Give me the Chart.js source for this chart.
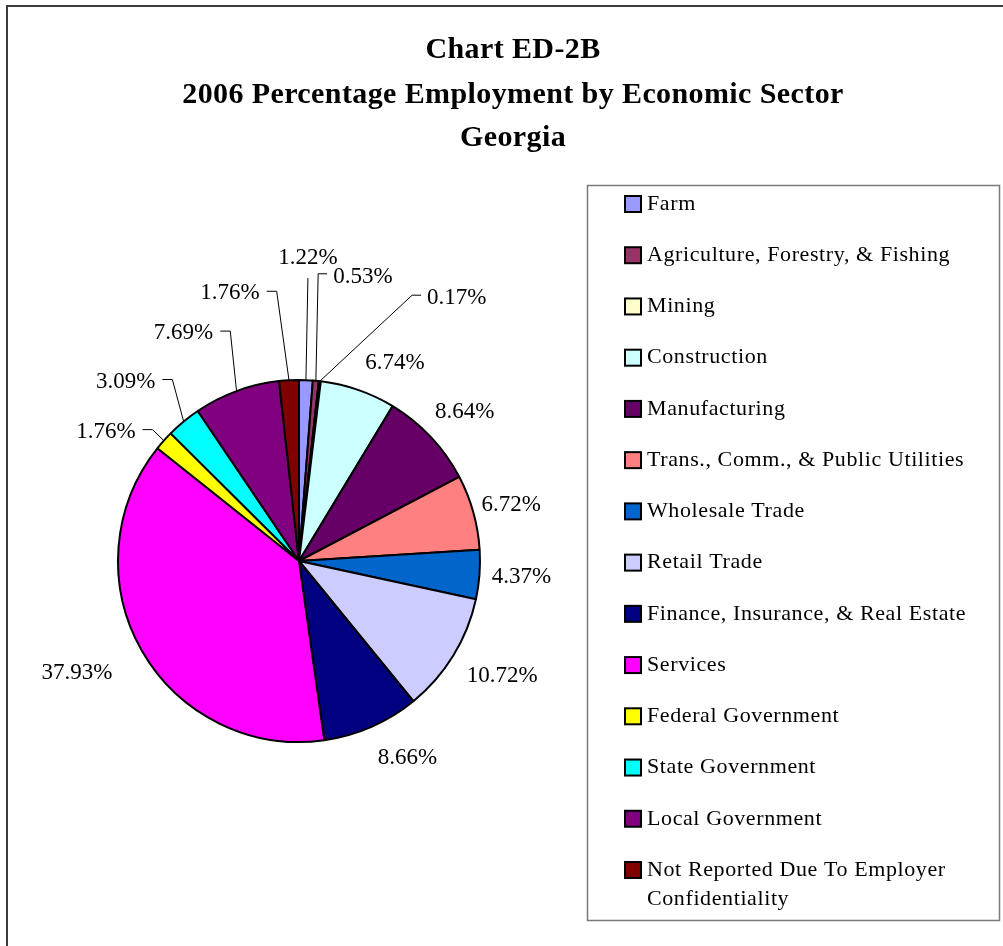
<!DOCTYPE html>
<html>
<head>
<meta charset="utf-8">
<script src="https://cdn.jsdelivr.net/npm/chart.js@4/dist/chart.umd.min.js"></script>
<style>
  html, body { margin: 0; padding: 0; background: #ffffff; }
  canvas { display: block; }
</style>
</head>
<body>
<canvas id="chart" width="1003" height="946"></canvas>
<script>
// Chart text and data
const titleLines = ['Chart ED-2B', '2006 Percentage Employment by Economic Sector', 'Georgia'];
const sectors = [
  'Farm',
  'Agriculture, Forestry, & Fishing',
  'Mining',
  'Construction',
  'Manufacturing',
  'Trans., Comm., & Public Utilities',
  'Wholesale Trade',
  'Retail Trade',
  'Finance, Insurance, & Real Estate',
  'Services',
  'Federal Government',
  'State Government',
  'Local Government',
  'Not Reported Due To Employer Confidentiality'
];
const shares = [1.22, 0.53, 0.17, 6.74, 8.64, 6.72, 4.37, 10.72, 8.66, 37.93, 1.76, 3.09, 7.69, 1.76];
const sliceColors = [
  '#9999FF', '#993366', '#FFFFCC', '#CCFFFF', '#660066', '#FF8080', '#0066CC',
  '#CCCCFF', '#000080', '#FF00FF', '#FFFF00', '#00FFFF', '#800080', '#800000'
];

// Label placement: shift of each label centre from its slice's outer mid-point (px)
const labelShift = [
  [2, -122], [47, -104], [137, -83], [37, -27], [34, -25], [38, -7], [42, 2],
  [49, 20], [36, 31], [-65, 22], [-58, -9], [-58, -40], [-53, -58], [-59, -87]
];
// Which side the leader line leaves the label from (null = no leader)
const leaderStyle = ['down', 'right', 'right', null, null, null, null, null, null, null, 'left', 'left', 'left', 'left'];

const SERIF = '"Liberation Serif", "Times New Roman", serif';

function setSpacing(ctx, px) {
  if ('letterSpacing' in ctx) ctx.letterSpacing = px + 'px';
}

function wrapWords(ctx, text, maxWidth) {
  const words = text.split(' ');
  const lines = [];
  let line = '';
  for (const w of words) {
    const test = line ? line + ' ' + w : w;
    if (line && ctx.measureText(test).width > maxWidth) {
      lines.push(line);
      line = w;
    } else {
      line = test;
    }
  }
  if (line) lines.push(line);
  return lines;
}

const decor = {
  id: 'decor',
  afterDraw(chart) {
    const ctx = chart.ctx;
    ctx.save();

    // Outer frame (only left and top edges fall inside the canvas)
    ctx.strokeStyle = '#3c3c3c';
    ctx.lineWidth = 2;
    ctx.strokeRect(7, 6, 1200, 1200);

    // Title
    ctx.fillStyle = '#000';
    ctx.textAlign = 'center';
    ctx.textBaseline = 'middle';
    ctx.font = 'bold 30px ' + SERIF;
    setSpacing(ctx, 0.4);
    const titleY = [50, 95, 138];
    titleLines.forEach((t, i) => ctx.fillText(t, 513, titleY[i]));

    // Legend box
    ctx.strokeStyle = '#7a7a7a';
    ctx.lineWidth = 1.5;
    ctx.strokeRect(587.5, 185.5, 412, 735);

    ctx.font = '22px ' + SERIF;
    setSpacing(ctx, 0.6);
    ctx.textAlign = 'left';
    const rowStart = 204, rowStep = 51.23;
    sectors.forEach((name, i) => {
      const y = rowStart + i * rowStep;
      ctx.fillStyle = sliceColors[i];
      ctx.fillRect(625, y - 8, 16, 16);
      ctx.strokeStyle = '#000';
      ctx.lineWidth = 2;
      ctx.strokeRect(625, y - 8, 16, 16);
      ctx.fillStyle = '#000';
      const lines = wrapWords(ctx, name, 340);
      lines.forEach((ln, k) => ctx.fillText(ln, 647, y + k * 29));
    });

    // Data labels with leader lines
    const meta = chart.getDatasetMeta(0);
    ctx.font = '23px ' + SERIF;
    setSpacing(ctx, 0);
    ctx.textAlign = 'center';
    ctx.textBaseline = 'middle';
    ctx.strokeStyle = '#000';
    ctx.lineWidth = 1;
    meta.data.forEach((arc, i) => {
      const p = arc.getProps(['x', 'y', 'startAngle', 'endAngle', 'outerRadius'], true);
      const mid = (p.startAngle + p.endAngle) / 2;
      const ax = p.x + Math.cos(mid) * p.outerRadius;
      const ay = p.y + Math.sin(mid) * p.outerRadius;
      const lx = ax + labelShift[i][0];
      const ly = ay + labelShift[i][1];
      const text = shares[i].toFixed(2) + '%';
      ctx.fillStyle = '#000';
      ctx.fillText(text, lx, ly);
      const w = ctx.measureText(text).width;
      const style = leaderStyle[i];
      if (!style) return;
      ctx.beginPath();
      if (style === 'left') {
        const sx = lx + w / 2 + 7;
        ctx.moveTo(sx, ly - 2);
        ctx.lineTo(sx + 10, ly - 2);
        ctx.lineTo(ax, ay);
      } else if (style === 'right') {
        const sx = lx - w / 2 - 6;
        ctx.moveTo(sx, ly - 3);
        ctx.lineTo(sx - 9, ly - 3);
        ctx.lineTo(ax, ay);
      } else {
        ctx.moveTo(lx, ly + 20);
        ctx.lineTo(ax, ay);
      }
      ctx.stroke();
    });

    ctx.restore();
  }
};

new Chart(document.getElementById('chart'), {
  type: 'pie',
  data: {
    labels: sectors,
    datasets: [{
      data: shares,
      backgroundColor: sliceColors,
      borderColor: '#000000',
      borderWidth: 2
    }]
  },
  options: {
    responsive: false,
    animation: false,
    devicePixelRatio: 1,
    radius: 181,
    layout: { padding: { left: 118, right: 523, top: 380, bottom: 204 } },
    events: [],
    plugins: {
      legend: { display: false },
      title: { display: false },
      tooltip: { enabled: false }
    }
  },
  plugins: [decor]
});
</script>
</body>
</html>
